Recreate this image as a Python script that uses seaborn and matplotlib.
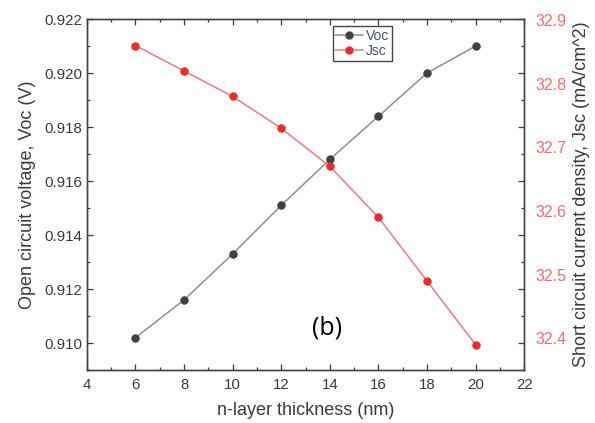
import numpy as np
import pandas as pd
import matplotlib
matplotlib.use("Agg")
import matplotlib.pyplot as plt
import seaborn as sns
from matplotlib.ticker import MultipleLocator
from matplotlib.lines import Line2D


thickness = [6, 8, 10, 12, 14, 16, 18, 20]
voc = [0.9102, 0.9116, 0.9133, 0.9151, 0.9168, 0.9184, 0.9200, 0.9210]
jsc = [32.86, 32.82, 32.78, 32.73, 32.67, 32.59, 32.49, 32.39]

df = pd.DataFrame({"thickness": thickness, "Voc": voc, "Jsc": jsc})

sns.set_style("ticks")
plt.rcParams["font.family"] = ["Liberation Sans", "DejaVu Sans"]

text_col = "#3a3a3a"
voc_mark = "#404040"
voc_line = "#8e8e8e"
jsc_mark = "#ee2b2b"
jsc_line = "#f27a7a"

fig = plt.figure(figsize=(5.95, 4.23), dpi=100)
ax = fig.add_axes([0.146, 0.125, 0.735, 0.830])

sns.lineplot(data=df, x="thickness", y="Voc", ax=ax, color=voc_line, lw=1.1,
             marker="o", markersize=5.3, markerfacecolor=voc_mark,
             markeredgecolor=voc_mark, zorder=3)

ax2 = ax.twinx()
sns.lineplot(data=df, x="thickness", y="Jsc", ax=ax2, color=jsc_line, lw=1.1,
             marker="o", markersize=5.3, markerfacecolor=jsc_mark,
             markeredgecolor=jsc_mark, zorder=3)

ax.set_xlim(4, 22)
ax.set_ylim(0.909, 0.922)
ax2.set_ylim(32.35, 32.9016)

ax.xaxis.set_major_locator(MultipleLocator(2))
ax.xaxis.set_minor_locator(MultipleLocator(1))
ax.yaxis.set_major_locator(MultipleLocator(0.002))
ax.yaxis.set_minor_locator(MultipleLocator(0.001))
ax.yaxis.set_major_formatter(matplotlib.ticker.FormatStrFormatter("%.3f"))
ax2.yaxis.set_major_locator(MultipleLocator(0.1))
ax2.yaxis.set_major_formatter(matplotlib.ticker.FormatStrFormatter("%.1f"))

# left ticks mirrored on top and right, red labels on the right without ticks
ax.tick_params(which="both", direction="in", top=True, right=True,
               labelsize=10.8, colors=text_col, width=0.9)
ax.tick_params(which="major", length=4.5)
ax.tick_params(which="minor", length=2.5)
ax.tick_params(axis="x", pad=6)
ax2.tick_params(axis="y", which="both", length=0, labelsize=11.5,
                labelcolor="#ff6a6a", pad=8)

for a in (ax, ax2):
    for s in a.spines.values():
        s.set_color("#444444")
        s.set_linewidth(1.0)

ax.set_xlabel("n-layer thickness (nm)", fontsize=13, color=text_col, labelpad=7)
ax.set_ylabel("Open circuit voltage, Voc (V)", fontsize=13, color=text_col, labelpad=6)
ax2.set_ylabel("Short circuit current density, Jsc (mA/cm^2)", fontsize=13,
               color=text_col, labelpad=5)

ax.text(13.9, 0.91056, "(b)", fontsize=18, color="black", ha="center",
        va="center", family=["Open Sans", "DejaVu Sans"])

handles = [
    Line2D([], [], color=voc_line, lw=1.1, marker="o", markersize=5,
           markerfacecolor=voc_mark, markeredgecolor=voc_mark),
    Line2D([], [], color=jsc_line, lw=1.1, marker="o", markersize=5,
           markerfacecolor=jsc_mark, markeredgecolor=jsc_mark),
]
leg = ax.legend(handles, ["Voc", "Jsc"], loc="upper left",
                bbox_to_anchor=(0.562, 0.98), fontsize=10, frameon=True,
                fancybox=False, framealpha=1, edgecolor="#444444",
                handlelength=2.0, handletextpad=0.2, borderpad=0.2,
                labelspacing=0.1, borderaxespad=0)
for t in leg.get_texts():
    t.set_color("#4a5368")
if ax2.get_legend() is not None:
    ax2.get_legend().remove()

fig.savefig("out.png", dpi=100)
